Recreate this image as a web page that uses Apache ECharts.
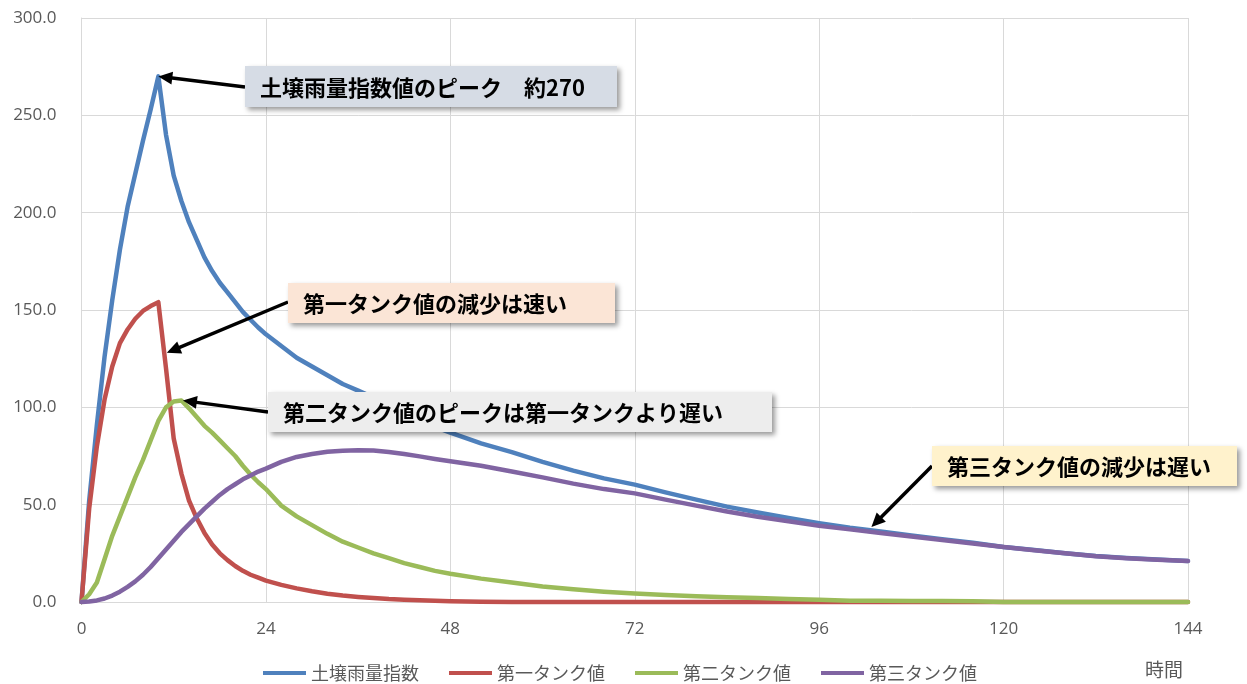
<!DOCTYPE html>
<html lang="ja">
<head>
<meta charset="utf-8">
<title>土壌雨量指数とタンク値</title>
<script src="https://cdn.jsdelivr.net/npm/echarts@6/dist/echarts.min.js"></script>
<style>
  html, body { margin: 0; padding: 0; background: #ffffff; }
  #chart { width: 1247px; height: 684px; }
</style>
</head>
<body>
<div id="chart"></div>
<script>
// Elapsed time (hours) of each sample
const hours = [0,1,2,3,4,5,6,7,8,9,10,11,12,13,14,15,16,17,18,19,20,21,22,23,24,
  26,28,30,32,34,36,38,40,42,44,46,48,
  52,56,60,64,68,72,76,80,84,88,92,96,100,104,108,112,116,120,124,128,132,136,140,144];

// 土壌雨量指数 (sum of the three tanks)
const soilIndex = [0,52,91,126,155,181,203,220,237,253,270,240,219,206,195,186,177,170,164,159,154,149,145,141,137.5,
  131.5,125.5,121,116.5,112,108.6,105,101,97.2,93.7,90,87,
  81.5,77,72,67.5,63.5,60.3,56.3,52.6,49,46,43.2,40.5,38.1,36.2,34.2,32.3,30.4,28.3,26.7,25.1,23.6,22.6,21.8,21.1];

// 第一タンク値
const tank1 = [0,48,80,104,121,133,140,145.5,149.5,152,154,120,84,66,52,43,35.5,29.5,25,21.5,18.5,16,14,12.5,11,
  8.8,7,5.5,4.2,3.3,2.6,2,1.5,1.2,0.9,0.6,0.4,
  0.1,0,0,0,0,0,0,0,0,0,0,0,0,0,0,0,0,0,0,0,0,0,0,0];

// 第二タンク値
const tank2 = [0,4,10,22,34,44,54,64,73,83,93,100,103,103.5,99.5,95,90.5,87,83,79,75,70,65.5,61.5,58,
  49.5,44,39.5,35,31,28,25,22.5,20,18,16,14.5,
  12,10,8,6.5,5.3,4.4,3.6,3,2.4,2,1.6,1.2,0.7,0.6,0.5,0.5,0.4,0,0,0,0,0,0,0];

// 第三タンク値
const tank3 = [0,0.3,0.8,1.8,3.3,5.3,7.8,10.6,14,18,22.5,27,31.5,36,40,44,48,51.5,55,58,60.5,63,65,67,68.5,
  72,74.5,76,77.2,77.7,78,77.8,77,76,74.8,73.5,72.3,
  70,67,64,60.8,58,55.8,52.6,49.5,46.5,43.8,41.5,39.2,37.3,35.5,33.6,31.8,30,28.2,26.6,25,23.5,22.5,21.7,21];

const seriesNames = ['土壌雨量指数', '第一タンク値', '第二タンク値', '第三タンク値'];
const seriesValues = [soilIndex, tank1, tank2, tank3];
const seriesColors = ['#4F81BD', '#C0504D', '#9BBB59', '#8064A2'];

const xTicks = { min: 0, max: 144, interval: 24 };
const yTicks = { min: 0, max: 300, interval: 50 };
const xAxisTitle = '時間';

// Callout texts and the data point each arrow points at
const calloutTexts = [
  '土壌雨量指数値のピーク　約270',
  '第一タンク値の減少は速い',
  '第二タンク値のピークは第一タンクより遅い',
  '第三タンク値の減少は遅い'
];
const calloutTargets = [[10, 270], [11.1, 128], [13.2, 103.5], [102.8, 38.5]];

// Callout box layout (pixels) and fills
const calloutBoxes = [
  { x: 245, y: 66,  w: 372, h: 41, fill: '#D6DCE5' },
  { x: 288, y: 283, w: 327, h: 40, fill: '#FBE5D6' },
  { x: 268, y: 392, w: 504, h: 40, fill: '#EDEDED' },
  { x: 932, y: 446, w: 305, h: 40, fill: '#FFF2CC' }
];
const calloutTails = [[245, 87], [288, 302], [268, 412], [932, 466]];

const chart = echarts.init(document.getElementById('chart'), null, { renderer: 'canvas' });

const series = seriesNames.map((name, k) => ({
  name: name,
  type: 'line',
  data: hours.map((h, i) => [h, seriesValues[k][i]]),
  showSymbol: false,
  symbol: 'none',
  clip: false,
  smooth: false,
  color: seriesColors[k],
  lineStyle: { width: 4.5, color: seriesColors[k], cap: 'round', join: 'round' },
  emphasis: { disabled: true },
  z: 2 + k
}));

chart.setOption({
  animation: false,
  backgroundColor: '#ffffff',
  textStyle: { fontFamily: '"Noto Sans CJK JP", "Noto Sans", sans-serif' },
  grid: { left: 81.5, right: 59, top: 18, bottom: 82, containLabel: false },
  legend: {
    data: seriesNames,
    left: 258,
    top: 659,
    icon: 'rect',
    itemWidth: 43,
    itemHeight: 4,
    itemGap: 30,
    textStyle: { color: '#595959', fontSize: 18, fontFamily: '"Noto Sans CJK JP", sans-serif' }
  },
  xAxis: {
    type: 'value',
    min: xTicks.min,
    max: xTicks.max,
    interval: xTicks.interval,
    axisLine: { show: true, lineStyle: { color: '#D9D9D9', width: 1 } },
    axisTick: { show: false },
    axisLabel: { color: '#595959', fontSize: 17, margin: 19, fontFamily: '"Open Sans", "Noto Sans", sans-serif' },
    splitLine: { show: true, lineStyle: { color: '#D9D9D9', width: 1 } }
  },
  yAxis: {
    type: 'value',
    min: yTicks.min,
    max: yTicks.max,
    interval: yTicks.interval,
    axisLine: { show: true, lineStyle: { color: '#D9D9D9', width: 1 } },
    axisTick: { show: false },
    axisLabel: {
      color: '#595959', fontSize: 17, margin: 25,
      fontFamily: '"Open Sans", "Noto Sans", sans-serif',
      formatter: v => v.toFixed(1)
    },
    splitLine: { show: true, lineStyle: { color: '#D9D9D9', width: 1 } }
  },
  series: series
});

// Callout boxes with arrows pointing at the series
function arrowElements(tail, head) {
  const dx = head[0] - tail[0], dy = head[1] - tail[1];
  const len = Math.sqrt(dx * dx + dy * dy);
  const ux = dx / len, uy = dy / len;
  const nx = -uy, ny = ux;
  const headLen = 14, headHalf = 6.5;
  const bx = head[0] - ux * headLen, by = head[1] - uy * headLen;
  return [
    {
      type: 'line', z: 100,
      shape: { x1: tail[0], y1: tail[1], x2: bx + ux * 2, y2: by + uy * 2 },
      style: { stroke: '#000000', lineWidth: 3.5 }
    },
    {
      type: 'polygon', z: 100,
      shape: { points: [[head[0], head[1]], [bx + nx * headHalf, by + ny * headHalf], [bx - nx * headHalf, by - ny * headHalf]] },
      style: { fill: '#000000' }
    }
  ];
}

const graphics = [];
calloutTexts.forEach((txt, i) => {
  const b = calloutBoxes[i];
  const head = chart.convertToPixel({ gridIndex: 0 }, calloutTargets[i]);
  graphics.push(...arrowElements(calloutTails[i], head));
  graphics.push({
    type: 'rect', z: 101,
    shape: { x: b.x, y: b.y, width: b.w, height: b.h },
    style: {
      fill: b.fill,
      shadowBlur: 5, shadowOffsetX: 3, shadowOffsetY: 3,
      shadowColor: 'rgba(0,0,0,0.4)'
    }
  });
  graphics.push({
    type: 'text', z: 102,
    style: {
      text: txt,
      x: b.x + 15,
      y: b.y + b.h / 2 + 1,
      fill: '#000000',
      font: 'bold 22px "Noto Sans CJK JP", sans-serif',
      verticalAlign: 'middle',
      align: 'left'
    }
  });
});
graphics.push({
  type: 'text', z: 102,
  style: {
    text: xAxisTitle,
    x: 1145, y: 670,
    fill: '#595959',
    font: '19px "Noto Sans CJK JP", sans-serif',
    verticalAlign: 'middle',
    align: 'left'
  }
});

chart.setOption({ graphic: { elements: graphics } });
</script>
</body>
</html>
